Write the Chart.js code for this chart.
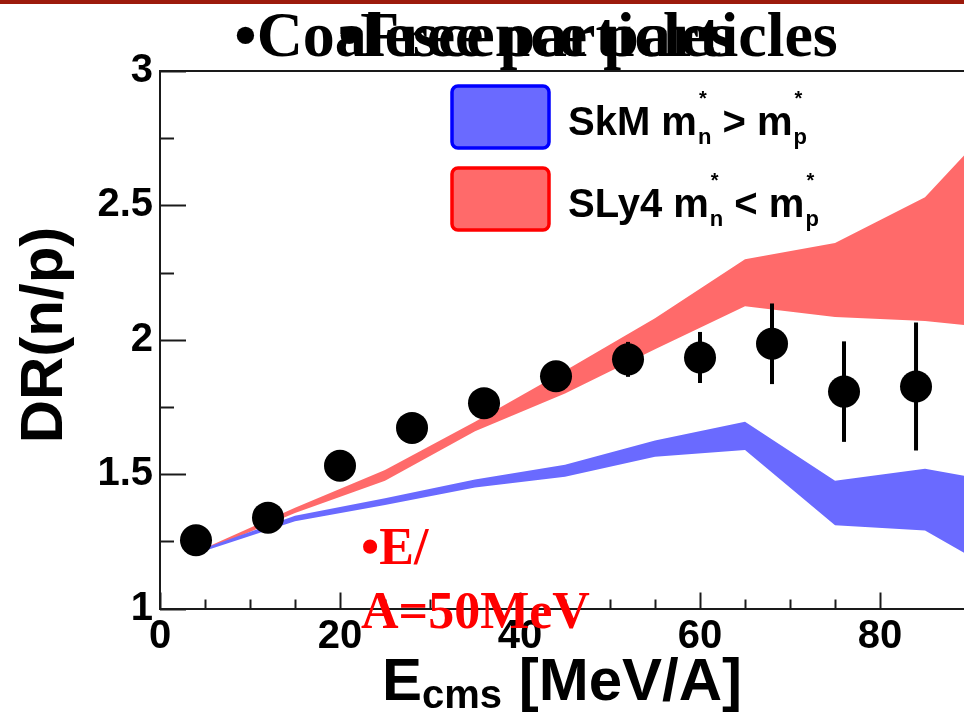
<!DOCTYPE html>
<html>
<head>
<meta charset="utf-8">
<script src="https://cdn.jsdelivr.net/npm/chart.js@4.4.1/dist/chart.umd.min.js"></script>
<style>
  html, body { margin: 0; padding: 0; background: #fff; }
  #wrap { width: 964px; height: 712px; position: relative; }
</style>
</head>
<body>
<div id="wrap"><canvas id="c" width="964" height="712"></canvas></div>
<script>
// Measured double ratio DR(n/p) versus centre-of-mass energy
const energies   = [4, 12, 20, 28, 36, 44, 52, 60, 68, 76, 84];
const drValues   = [1.254, 1.338, 1.531, 1.672, 1.764, 1.864, 1.927, 1.934, 1.985, 1.807, 1.826];
const drErrors   = [0.03, 0.03, 0.03, 0.035, 0.035, 0.04, 0.065, 0.095, 0.15, 0.187, 0.238];

// Transport-model bands (lower / upper edges)
const bandEnergies = [5, 15, 25, 35, 45, 55, 65, 75, 85, 95];
const sly4Low  = [1.215, 1.355, 1.475, 1.66, 1.80, 1.965, 2.125, 2.085, 2.07, 2.035];
const sly4High = [1.225, 1.375, 1.515, 1.695, 1.885, 2.08, 2.30, 2.36, 2.53, 2.89];
const skmLow   = [1.215, 1.325, 1.385, 1.45, 1.49, 1.565, 1.59, 1.31, 1.29, 1.10];
const skmHigh  = [1.225, 1.345, 1.41, 1.48, 1.535, 1.625, 1.695, 1.475, 1.52, 1.46];

const xTickLabels = [0, 20, 40, 60, 80];
const yTickLabels = [1, 1.5, 2, 2.5, 3];

const titleLines = ['•Coalescence particles', '•Free particles'];
const noteLines = ['•E/', 'A=50MeV'];

const redFill = '#ff6a6a';
const blueFill = '#6a6aff';

const pts = (xs, ys) => xs.map((x, i) => ({ x: x, y: ys[i] }));

const AXIS = '#1a1a1a';
const SANS = '"Liberation Sans", Arial, sans-serif';
const SERIF = '"Liberation Serif", "Times New Roman", serif';

const decor = {
  id: 'decor',
  beforeDraw(chart) {
    const c = chart.ctx;
    c.save();
    c.fillStyle = '#fff';
    c.fillRect(0, 0, chart.width, chart.height);
    c.fillStyle = '#9c1a0c';
    c.fillRect(0, 0, chart.width, 4);
    c.restore();
  },
  afterDatasetsDraw(chart) {
    // vertical error bars on the measured points
    const c = chart.ctx, xs = chart.scales.x, ys = chart.scales.y;
    c.save();
    c.strokeStyle = '#000';
    c.lineWidth = 4;
    energies.forEach((e, i) => {
      const px = xs.getPixelForValue(e);
      c.beginPath();
      c.moveTo(px, ys.getPixelForValue(drValues[i] - drErrors[i]));
      c.lineTo(px, ys.getPixelForValue(drValues[i] + drErrors[i]));
      c.stroke();
    });
    c.restore();
  },
  afterDraw(chart) {
    const c = chart.ctx, xs = chart.scales.x, ys = chart.scales.y, a = chart.chartArea;
    c.save();
    // frame top line
    c.strokeStyle = AXIS;
    c.lineWidth = 2;
    c.beginPath();
    c.moveTo(a.left, a.top); c.lineTo(a.right, a.top);
    c.stroke();
    // inward tick marks
    xs.ticks.forEach(t => {
      if (Math.abs(t.value / 5 - Math.round(t.value / 5)) > 1e-6) return;
      const px = Math.round(xs.getPixelForValue(t.value)) + 0.5;
      const len = (Math.round(t.value) % 20 === 0) ? 16 : 9;
      c.beginPath(); c.moveTo(px, a.bottom); c.lineTo(px, a.bottom - len); c.stroke();
    });
    ys.ticks.forEach(t => {
      const py = Math.round(ys.getPixelForValue(t.value)) + 0.5;
      const major = Math.abs(t.value * 2 - Math.round(t.value * 2)) < 1e-6;
      c.beginPath(); c.moveTo(a.left, py); c.lineTo(a.left + (major ? 26 : 14), py); c.stroke();
    });

    // axis titles
    c.fillStyle = '#000';
    c.textBaseline = 'alphabetic';
    c.save();
    c.translate(62, 335);
    c.rotate(-Math.PI / 2);
    c.textAlign = 'center';
    c.font = 'bold 60px ' + SANS;
    c.fillText('DR(n/p)', 0, 0);
    c.restore();

    c.textAlign = 'left';
    c.font = 'bold 60px ' + SANS;
    let x = 382;
    c.fillText('E', x, 700);
    x += c.measureText('E').width;
    c.font = 'bold 40px ' + SANS;
    c.fillText('cms', x, 708);
    x += c.measureText('cms').width;
    c.font = 'bold 60px ' + SANS;
    c.fillText(' [MeV/A]', x, 700);

    // legend
    const entries = [
      { fill: blueFill, stroke: '#0000ff', top: 85, name: 'SkM', rel: ' > ' },
      { fill: redFill, stroke: '#ff0000', top: 167, name: 'SLy4', rel: ' < ' }
    ];
    entries.forEach(en => {
      c.beginPath();
      c.roundRect(452, en.top + 1, 97, 62, 6);
      c.fillStyle = en.fill;
      c.fill();
      c.lineWidth = 3.5;
      c.strokeStyle = en.stroke;
      c.stroke();
      const base = en.top + 50;
      let lx = 568;
      c.fillStyle = '#000';
      c.font = 'bold 40px ' + SANS;
      c.fillText(en.name + ' m', lx, base);
      lx += c.measureText(en.name + ' m').width + 1;
      c.font = 'bold 22px ' + SANS;
      c.fillText('n', lx, base + 9);
      c.font = 'bold 20px ' + SANS;
      c.fillText('*', lx + 1, base - 30);
      c.font = 'bold 22px ' + SANS;
      lx += c.measureText('n').width;
      c.font = 'bold 40px ' + SANS;
      c.fillText(en.rel + 'm', lx, base);
      lx += c.measureText(en.rel + 'm').width + 1;
      c.font = 'bold 22px ' + SANS;
      c.fillText('p', lx, base + 9);
      c.font = 'bold 20px ' + SANS;
      c.fillText('*', lx + 1, base - 30);
    });

    // slide title (two overlapping text lines)
    c.fillStyle = '#000';
    c.textAlign = 'center';
    c.font = 'bold 64px ' + SERIF;
    titleLines.forEach(t => c.fillText(t, 536, 56));

    // red note
    c.fillStyle = '#ff0000';
    c.textAlign = 'left';
    c.font = 'bold 52px ' + SERIF;
    c.fillText(noteLines[0], 361, 564);
    c.fillText(noteLines[1], 361, 628);
    c.restore();
  }
};

const tickFont = { family: SANS, weight: 'bold', size: 40 };

new Chart(document.getElementById('c'), {
  type: 'line',
  data: {
    datasets: [
      {
        label: 'data',
        data: pts(energies, drValues),
        showLine: false,
        pointRadius: 16,
        pointHoverRadius: 16,
        pointBackgroundColor: '#000',
        pointBorderColor: '#000',
        pointBorderWidth: 0,
        order: 0
      },
      {
        label: 'SLy4 low',
        data: pts(bandEnergies, sly4Low),
        borderWidth: 0, pointRadius: 0, fill: false, tension: 0, order: 2
      },
      {
        label: 'SLy4 m*n < m*p',
        data: pts(bandEnergies, sly4High),
        borderWidth: 0, pointRadius: 0, fill: 1, backgroundColor: redFill, tension: 0, order: 2
      },
      {
        label: 'SkM low',
        data: pts(bandEnergies, skmLow),
        borderWidth: 0, pointRadius: 0, fill: false, tension: 0, order: 1
      },
      {
        label: 'SkM m*n > m*p',
        data: pts(bandEnergies, skmHigh),
        borderWidth: 0, pointRadius: 0, fill: 3, backgroundColor: blueFill, tension: 0, order: 1
      }
    ]
  },
  options: {
    responsive: false,
    animation: false,
    events: [],
    layout: { autoPadding: false, padding: { top: 71, right: 0, left: 0, bottom: 0 } },
    plugins: { legend: { display: false }, tooltip: { enabled: false } },
    scales: {
      x: {
        type: 'linear',
        min: 0,
        max: 89.33,
        afterFit(s) { s.height = 103.5; s.paddingLeft = 0; s.paddingRight = 0; },
        grid: { display: false, drawTicks: false },
        border: { display: true, color: AXIS, width: 2 },
        ticks: {
          stepSize: 5, autoSkip: false, maxRotation: 0, padding: 4,
          font: tickFont, color: '#000',
          callback: v => xTickLabels.includes(v) ? String(v) : ''
        }
      },
      y: {
        type: 'linear',
        min: 1,
        max: 3,
        afterFit(s) { s.width = 160; s.paddingTop = 0; s.paddingBottom = 0; },
        grid: { display: false, drawTicks: false },
        border: { display: true, color: AXIS, width: 2 },
        ticks: {
          stepSize: 0.25, autoSkip: false, padding: 7,
          font: tickFont, color: '#000',
          callback: v => yTickLabels.includes(v) ? String(v) : ''
        }
      }
    }
  },
  plugins: [decor]
});
</script>
</body>
</html>
